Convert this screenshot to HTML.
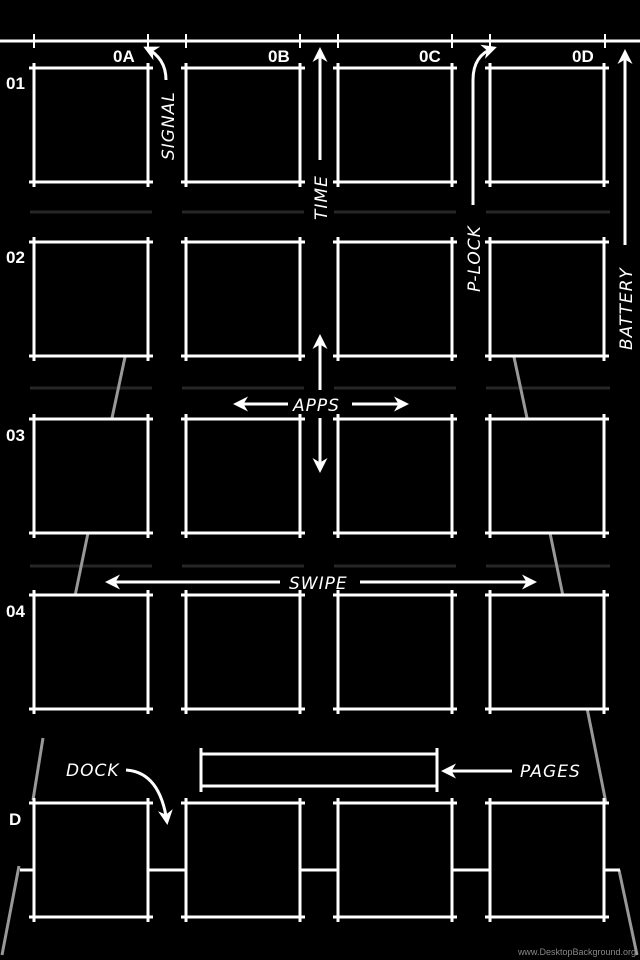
<!DOCTYPE html>
<html><head><meta charset="utf-8"><style>
html,body{margin:0;padding:0;background:#000;}
svg{display:block}
.b{font-family:"Liberation Sans",sans-serif;font-weight:bold;font-size:17px;fill:#fff}
.h{font-family:"DejaVu Sans",sans-serif;font-style:italic;font-size:17px;fill:#fff;letter-spacing:1px}
</style></head><body>
<svg width="640" height="960" viewBox="0 0 640 960" xmlns="http://www.w3.org/2000/svg">
<defs>
<marker id="a" viewBox="0 0 10 10" refX="8" refY="5" markerWidth="5" markerHeight="5" orient="auto"><path d="M0,0 L10,5 L0,10 L3,5 z" fill="#fff"/></marker>
<g id="bx" stroke="#fff" stroke-width="3" fill="none">
<line x1="-5" y1="0" x2="119" y2="0"/><line x1="-5" y1="114" x2="119" y2="114"/>
<line x1="0" y1="-5" x2="0" y2="119"/><line x1="114" y1="-5" x2="114" y2="119"/>
</g>
<g id="gl" stroke="#262626" stroke-width="3">
<line x1="30" y1="0" x2="152" y2="0"/><line x1="182" y1="0" x2="304" y2="0"/><line x1="334" y1="0" x2="456" y2="0"/><line x1="486" y1="0" x2="610" y2="0"/>
</g>
</defs>
<rect width="640" height="960" fill="#000"/>
<use href="#gl" y="212"/><use href="#gl" y="388"/><use href="#gl" y="566"/>
<line x1="0" y1="41" x2="640" y2="41" stroke="#fff" stroke-width="3"/>
<g stroke="#fff" stroke-width="2">
<line x1="34" y1="34" x2="34" y2="48"/><line x1="148" y1="34" x2="148" y2="48"/><line x1="186" y1="34" x2="186" y2="48"/><line x1="300" y1="34" x2="300" y2="48"/><line x1="338" y1="34" x2="338" y2="48"/><line x1="452" y1="34" x2="452" y2="48"/><line x1="490" y1="34" x2="490" y2="48"/><line x1="605" y1="34" x2="605" y2="48"/>
</g>
<g stroke="#999" stroke-width="3">
<line x1="125" y1="357" x2="112" y2="418"/><line x1="88" y1="533" x2="75" y2="596"/>
<line x1="514" y1="357" x2="527" y2="418"/><line x1="550" y1="533" x2="563" y2="596"/>
<line x1="43" y1="738" x2="33" y2="800"/><line x1="19" y1="866" x2="2" y2="955"/>
<line x1="587" y1="708" x2="606" y2="803"/><line x1="619" y1="870" x2="637" y2="955"/>
</g>
<use href="#bx" x="34" y="68"/><use href="#bx" x="186" y="68"/><use href="#bx" x="338" y="68"/><use href="#bx" x="490" y="68"/>
<use href="#bx" x="34" y="242"/><use href="#bx" x="186" y="242"/><use href="#bx" x="338" y="242"/><use href="#bx" x="490" y="242"/>
<use href="#bx" x="34" y="419"/><use href="#bx" x="186" y="419"/><use href="#bx" x="338" y="419"/><use href="#bx" x="490" y="419"/>
<use href="#bx" x="34" y="595"/><use href="#bx" x="186" y="595"/><use href="#bx" x="338" y="595"/><use href="#bx" x="490" y="595"/>
<use href="#bx" x="34" y="803"/><use href="#bx" x="186" y="803"/><use href="#bx" x="338" y="803"/><use href="#bx" x="490" y="803"/>
<g stroke="#fff" stroke-width="3" fill="none">
<line x1="20" y1="870" x2="34" y2="870"/><line x1="148" y1="870" x2="186" y2="870"/><line x1="300" y1="870" x2="338" y2="870"/><line x1="452" y1="870" x2="490" y2="870"/><line x1="605" y1="870" x2="620" y2="870"/>
<rect x="201" y="754" width="236" height="32"/>
<line x1="201" y1="748" x2="201" y2="792"/><line x1="437" y1="748" x2="437" y2="792"/>
</g>
<g stroke="#fff" stroke-width="3" fill="none" marker-end="url(#a)">
<path d="M166,80 Q166,58 146,48"/>
<line x1="320" y1="160" x2="320" y2="50"/>
<path d="M473,205 L473,80 Q473,55 494,48"/>
<line x1="625" y1="245" x2="625" y2="52"/>
<line x1="320" y1="390" x2="320" y2="337"/><line x1="320" y1="418" x2="320" y2="470"/>
<line x1="288" y1="404" x2="236" y2="404"/><line x1="352" y1="404" x2="406" y2="404"/>
<line x1="280" y1="582" x2="108" y2="582"/><line x1="360" y1="582" x2="534" y2="582"/>
<path d="M126,770 Q160,772 167,822"/>
<line x1="512" y1="771" x2="444" y2="771"/>
</g>
<text class="b" x="113" y="62">0A</text><text class="b" x="268" y="62">0B</text><text class="b" x="419" y="62">0C</text><text class="b" x="572" y="62">0D</text>
<text class="b" x="6" y="89">01</text><text class="b" x="6" y="263">02</text><text class="b" x="6" y="441">03</text><text class="b" x="6" y="617">04</text><text class="b" x="9" y="825">D</text>
<text class="h" transform="translate(174,160) rotate(-90)">SIGNAL</text>
<text class="h" transform="translate(327,220) rotate(-90)">TIME</text>
<text class="h" transform="translate(480,292) rotate(-90)">P-LOCK</text>
<text class="h" transform="translate(632,350) rotate(-90)">BATTERY</text>
<text class="h" x="293" y="411">APPS</text>
<text class="h" x="289" y="589">SWIPE</text>
<text class="h" x="66" y="776">DOCK</text>
<text class="h" x="520" y="777">PAGES</text>
<text x="636" y="955" text-anchor="end" font-family="Liberation Sans,sans-serif" font-size="9" fill="#888">www.DesktopBackground.org</text>
</svg>
</body></html>
